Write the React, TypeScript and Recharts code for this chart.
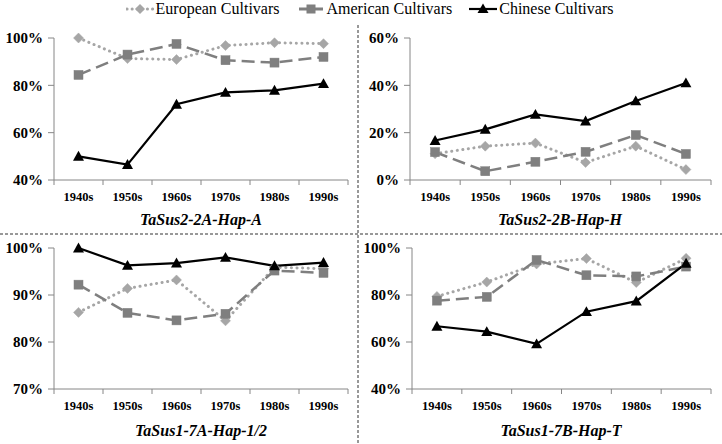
import React from 'react';
import { LineChart, Line, XAxis, YAxis } from 'recharts';

const categories = ['1940s', '1950s', '1960s', '1970s', '1980s', '1990s'];

const p1Eur = [100, 91.3, 90.9, 96.8, 98.0, 97.6];
const p1Ame = [84.4, 93.0, 97.5, 90.6, 89.6, 92.0];
const p1Chn = [50.0, 46.5, 72.0, 77.0, 77.9, 80.7];

const p2Eur = [11.1, 14.3, 15.6, 7.4, 14.3, 4.4];
const p2Ame = [11.8, 3.7, 7.7, 11.9, 19.0, 11.0];
const p2Chn = [16.7, 21.4, 27.7, 24.9, 33.4, 41.0];

const p3Eur = [86.3, 91.4, 93.2, 84.5, 95.9, 95.6];
const p3Ame = [92.2, 86.2, 84.6, 86.0, 95.2, 94.7];
const p3Chn = [100, 96.3, 96.8, 98.0, 96.2, 96.9];

const p4Eur = [79.4, 85.5, 93.2, 95.5, 85.3, 95.6];
const p4Ame = [77.6, 79.2, 94.9, 88.4, 87.9, 92.1];
const p4Chn = [66.7, 64.4, 59.2, 72.9, 77.4, 93.5];

const ticks1 = [40, 60, 80, 100];
const ticks2 = [0, 20, 40, 60];
const ticks3 = [70, 80, 90, 100];
const ticks4 = [40, 60, 80, 100];

const titles = ['TaSus2-2A-Hap-A', 'TaSus2-2B-Hap-H', 'TaSus1-7A-Hap-1/2', 'TaSus1-7B-Hap-T'];
const seriesNames = ['European Cultivars', 'American Cultivars', 'Chinese Cultivars'];

const FONT = "'Liberation Serif', Tinos, 'DejaVu Serif', 'Times New Roman', serif";
const AXIS = '#868686';
const EUR = '#A6A6A6';
const AME = '#7F7F7F';
const CHN = '#000000';

const xTicks = [0, 0.5, 1, 1.5, 2, 2.5, 3, 3.5, 4, 4.5, 5, 5.5, 6];

const build = (e: number[], a: number[], c: number[]) =>
  categories.map((cat, i) => ({ x: i + 0.5, cat, eur: e[i], ame: a[i], chn: c[i] }));

const XTick = (props: any) => {
  const { x, y, payload } = props;
  const v = payload.value;
  if (Number.isInteger(v)) {
    return <line x1={x} y1={y} x2={x} y2={y + 5} stroke={AXIS} strokeWidth={1} />;
  }
  const idx = Math.floor(v);
  return (
    <text x={x} y={y + 21} textAnchor="middle" style={{ fontFamily: FONT }} fontWeight="bold" fontSize={12.5} fill="#000">
      {categories[idx]}
    </text>
  );
};

const Diamond = (props: any) => {
  const { cx, cy, index } = props;
  if (cx == null || cy == null) return <g key={`d${index}`} />;
  const r = 5;
  return <path key={`d${index}`} d={`M${cx},${cy - r}L${cx + r},${cy}L${cx},${cy + r}L${cx - r},${cy}Z`} fill={EUR} stroke={EUR} strokeWidth={0.5} />;
};
const Square = (props: any) => {
  const { cx, cy, index } = props;
  if (cx == null || cy == null) return <g key={`s${index}`} />;
  const r = 4.5;
  return <rect key={`s${index}`} x={cx - r} y={cy - r} width={2 * r} height={2 * r} fill={AME} stroke={AME} strokeWidth={0.5} />;
};
const Tri = (props: any) => {
  const { cx, cy, index } = props;
  if (cx == null || cy == null) return <g key={`t${index}`} />;
  const r = 5.5;
  return <path key={`t${index}`} d={`M${cx},${cy - r}L${cx + r},${cy + r * 0.8}L${cx - r},${cy + r * 0.8}Z`} fill={CHN} />;
};

type PanelProps = {
  left: number; top: number; width: number; height: number; yWidth: number; right: number;
  data: any[]; domain: [number, number]; ticks: number[];
};

const Panel = ({ left, top, width, height, yWidth, right, data, domain, ticks }: PanelProps) => (
  <div style={{ position: 'absolute', left, top, width, height }}>
    <LineChart width={width} height={height} data={data} margin={{ top: 10, right, left: 0, bottom: 0 }}>
      <XAxis
        dataKey="x"
        type="number"
        domain={[0, 6]}
        ticks={xTicks}
        interval={0}
        tick={<XTick />}
        tickLine={false}
        tickSize={0}
        tickMargin={0}
        height={30}
        axisLine={{ stroke: AXIS, strokeWidth: 1 }}
      />
      <YAxis
        type="number"
        domain={domain}
        ticks={ticks}
        interval={0}
        width={yWidth}
        tickFormatter={(v: number) => `${v}%`}
        tick={{ style: { fontFamily: FONT }, fontWeight: 'bold', fontSize: 15, fill: '#000' }}
        tickSize={6}
        tickMargin={5}
        axisLine={{ stroke: AXIS, strokeWidth: 1 }}
        tickLine={{ stroke: AXIS, strokeWidth: 1 }}
      />
      <Line dataKey="eur" stroke={EUR} strokeWidth={3} strokeDasharray="0.1 5.5" strokeLinecap="round" dot={Diamond} isAnimationActive={false} />
      <Line dataKey="ame" stroke={AME} strokeWidth={2.5} strokeDasharray="13 6" dot={Square} isAnimationActive={false} />
      <Line dataKey="chn" stroke={CHN} strokeWidth={2.2} dot={Tri} isAnimationActive={false} />
    </LineChart>
  </div>
);

const LegendItem = ({ kind, label }: { kind: string; label: string }) => (
  <div style={{ display: 'flex', alignItems: 'center', marginRight: 17 }}>
    <svg width={28} height={14} style={{ marginRight: 2 }}>
      {kind === 'eur' && (
        <>
          <line x1={1} y1={7} x2={27} y2={7} stroke={EUR} strokeWidth={3} strokeDasharray="0.1 5" strokeLinecap="round" />
          <path d="M14,2L19,7L14,12L9,7Z" fill={EUR} />
        </>
      )}
      {kind === 'ame' && (
        <>
          <line x1={2} y1={7} x2={26} y2={7} stroke={AME} strokeWidth={3} />
          <rect x={9.5} y={2.5} width={9} height={9} fill={AME} />
        </>
      )}
      {kind === 'chn' && (
        <>
          <line x1={0} y1={7} x2={28} y2={7} stroke={CHN} strokeWidth={2.2} />
          <path d="M14,1.5L19.5,11L8.5,11Z" fill={CHN} />
        </>
      )}
    </svg>
    <span style={{ fontFamily: FONT, fontSize: 16, color: '#000', lineHeight: '18px', whiteSpace: 'nowrap' }}>{label}</span>
  </div>
);

const App = () => {
  const d1 = build(p1Eur, p1Ame, p1Chn);
  const d2 = build(p2Eur, p2Ame, p2Chn);
  const d3 = build(p3Eur, p3Ame, p3Chn);
  const d4 = build(p4Eur, p4Ame, p4Chn);
  const titleStyle: React.CSSProperties = {
    position: 'absolute', fontFamily: FONT, fontWeight: 'bold', fontStyle: 'italic', fontSize: 16,
    color: '#000', textAlign: 'center', lineHeight: '18px', whiteSpace: 'nowrap',
  };
  return (
    <div style={{ position: 'absolute', left: 0, top: 0, width: 722, height: 444, background: '#fff', overflow: 'hidden' }}>
      <div style={{ position: 'absolute', left: 17, top: 0, width: 722, display: 'flex', justifyContent: 'center' }}>
        <LegendItem kind="eur" label={seriesNames[0]} />
        <LegendItem kind="ame" label={seriesNames[1]} />
        <LegendItem kind="chn" label={seriesNames[2]} />
      </div>
      <Panel left={0} top={28} width={358} height={182} yWidth={54} right={10} data={d1} domain={[40, 100]} ticks={ticks1} />
      <Panel left={360} top={28} width={361} height={182} yWidth={50} right={10} data={d2} domain={[0, 60]} ticks={ticks2} />
      <Panel left={0} top={238} width={358} height={181} yWidth={54} right={10} data={d3} domain={[70, 100]} ticks={ticks3} />
      <Panel left={360} top={238} width={361} height={181} yWidth={52} right={10} data={d4} domain={[40, 100]} ticks={ticks4} />
      <div style={{ ...titleStyle, left: 51, top: 211, width: 300 }}>{titles[0]}</div>
      <div style={{ ...titleStyle, left: 410, top: 211, width: 300 }}>{titles[1]}</div>
      <div style={{ ...titleStyle, left: 51, top: 422, width: 300 }}>{titles[2]}</div>
      <div style={{ ...titleStyle, left: 411, top: 422, width: 300 }}>{titles[3]}</div>
      <svg width={722} height={444} style={{ position: 'absolute', left: 0, top: 0, pointerEvents: 'none' }}>
        <line x1={0} y1={234} x2={722} y2={234} stroke="#333" strokeWidth={1} strokeDasharray="3 2" />
        <line x1={358} y1={25} x2={358} y2={444} stroke="#333" strokeWidth={1} strokeDasharray="3 2" />
      </svg>
    </div>
  );
};

export default App;
